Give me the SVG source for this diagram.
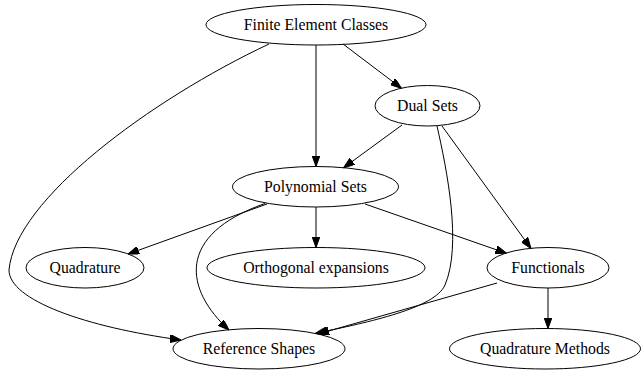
<svg xmlns="http://www.w3.org/2000/svg" width="641" height="374" viewBox="0 0 641 374">
<style>
.node ellipse{fill:none;stroke:#000;stroke-width:1}
text{font-family:'Liberation Serif',serif;font-size:15.75px;text-anchor:middle;fill:#000}
.edge{fill:none;stroke:#000;stroke-width:1;marker-end:url(#arr)}
</style>
<defs>
<marker id="arr" viewBox="0 0 11 8" refX="11" refY="4" markerWidth="11" markerHeight="8" orient="auto" markerUnits="userSpaceOnUse">
<polygon points="0,0 11,4 0,8" fill="#000" stroke="#000" stroke-width="1"/>
</marker>
</defs>
<rect width="641" height="374" fill="#fff"/>
<g id="connectors">
<path class="edge" d="M343,44 L401.5,88.3"/>
<path class="edge" d="M316,45 L316,166.5"/>
<path class="edge" d="M269,44 C150,100 15,200 9,270 C9,300 85,327 181,340"/>
<path class="edge" d="M402,125 L343.5,167.8"/>
<path class="edge" d="M442,126 L531,248.5"/>
<path class="edge" d="M437,126 C447,170 462,245 445,285 C435,308 370,322 315.5,333.3"/>
<path class="edge" d="M267,204 L128,254"/>
<path class="edge" d="M316,207 L316,247.5"/>
<path class="edge" d="M365,204 L506.5,253.3"/>
<path class="edge" d="M265,203.5 C175,235 185,290 229,330"/>
<path class="edge" d="M497,283 L318,334"/>
<path class="edge" d="M548,288 L548,328.5"/>
</g>
<g font-family="Liberation Serif, serif">
<g id="finite_element_classes" class="node"><ellipse cx="316" cy="24.75" rx="110" ry="20.25"/><text x="316" y="30">Finite Element Classes</text></g>
<g id="dual_sets" class="node"><ellipse cx="427.5" cy="105.75" rx="52.5" ry="20.25"/><text x="427.5" y="111">Dual Sets</text></g>
<g id="polynomial_sets" class="node"><ellipse cx="315.5" cy="186.75" rx="83" ry="20.25"/><text x="315.5" y="192">Polynomial Sets</text></g>
<g id="quadrature" class="node"><ellipse cx="85" cy="267.75" rx="59" ry="20.25"/><text x="85" y="273">Quadrature</text></g>
<g id="orthogonal_expansions" class="node"><ellipse cx="316" cy="267.75" rx="109" ry="20.25"/><text x="316" y="273">Orthogonal expansions</text></g>
<g id="functionals" class="node"><ellipse cx="548" cy="267.75" rx="61" ry="20.25"/><text x="548" y="273">Functionals</text></g>
<g id="reference_shapes" class="node"><ellipse cx="259" cy="348.75" rx="86" ry="20.25"/><text x="259" y="354">Reference Shapes</text></g>
<g id="quadrature_methods" class="node"><ellipse cx="545" cy="348.75" rx="95.5" ry="20.25"/><text x="545" y="354">Quadrature Methods</text></g>
</g>
</svg>
